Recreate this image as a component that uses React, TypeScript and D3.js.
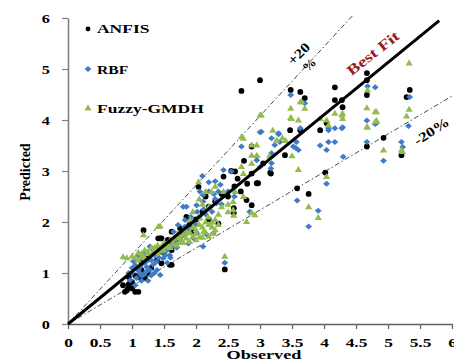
import React, { useEffect, useRef } from "react";
import * as d3 from "d3";

// axis ticks
const xTicks = [0, 0.5, 1, 1.5, 2, 2.5, 3, 3.5, 4, 4.5, 5, 5.5, 6];
const yTicks = [0, 1, 2, 3, 4, 5, 6];

// reference lines (observed, predicted)
const bestFit: [number, number][] = [[0, 0], [5.8, 5.95]];
const upperBand: [number, number][] = [[0, 0], [4.45, 6.05]];
const lowerBand: [number, number][] = [[0, 0], [6, 4.47]];

const seriesNames = ["ANFIS", "RBF", "Fuzzy-GMDH"];

// [observed, predicted]
const anfis: [number, number][] = [
  [2.71, 4.57], [3.0, 4.78], [3.48, 4.59], [3.63, 4.55], [3.7, 4.43], [4.17, 4.64], [4.17, 4.39],
  [4.28, 4.39], [4.67, 4.92], [4.67, 4.78], [4.67, 4.49], [5.34, 4.59], [5.29, 4.45], [3.47, 3.8],
  [3.63, 3.8], [3.94, 3.8], [4.04, 3.94], [4.29, 4.25], [4.67, 3.48], [4.93, 3.65], [5.21, 3.31],
  [3.16, 2.97], [3.17, 2.95], [2.61, 2.99], [2.43, 2.89], [2.55, 3.0], [4.02, 2.97], [3.39, 3.31],
  [2.87, 3.48], [2.87, 2.95], [2.95, 2.76], [2.97, 2.76], [2.79, 2.43], [3.58, 2.66], [3.76, 2.55],
  [2.87, 2.33], [2.59, 2.27], [2.59, 2.18], [2.45, 1.07], [2.04, 2.69], [2.35, 1.97],
  [1.18, 1.84], [1.41, 1.68], [1.46, 1.68], [1.44, 1.68], [1.56, 1.65], [1.62, 1.81], [1.75, 1.88],
  [1.59, 1.16], [1.62, 1.45], [1.39, 1.25], [1.46, 1.19], [1.62, 1.16], [0.86, 0.76], [0.94, 0.7],
  [1.05, 0.63], [0.89, 0.63], [1.1, 0.63], [0.95, 0.78], [1.0, 0.82], [1.05, 0.95], [1.12, 0.92],
  [1.2, 0.9], [1.25, 1.0], [1.3, 1.1], [1.15, 1.05], [1.5, 1.4], [1.55, 1.5], [1.7, 1.6],
  [1.8, 1.75], [1.9, 1.95], [2.0, 2.05], [2.1, 2.2], [2.2, 2.3], [2.3, 2.4], [2.4, 2.55],
  [2.5, 2.5], [2.6, 2.7], [2.7, 2.6], [2.2, 2.05], [1.95, 1.8], [1.85, 2.1], [2.15, 2.5],
  [2.65, 2.85], [2.8, 2.75], [3.05, 3.15], [2.75, 3.2], [1.35, 1.45], [1.25, 1.3], [0.95, 0.92],
  [1.15, 1.2], [0.92, 0.66], [1.0, 0.7],
];

const rbf: [number, number][] = [
  [3.48, 4.49], [4.8, 4.64], [4.68, 4.66], [5.34, 4.45], [3.7, 4.33], [3.0, 3.76], [3.02, 3.77],
  [3.29, 3.72], [3.29, 3.74], [3.63, 3.84], [2.71, 3.48], [3.31, 3.57], [3.57, 3.57], [3.6, 3.41],
  [3.94, 3.5], [4.07, 3.57], [4.17, 3.57], [4.07, 3.8], [4.17, 3.84], [4.07, 3.84], [4.28, 3.84],
  [4.67, 3.99], [4.82, 3.94], [4.8, 3.92], [4.67, 3.57], [4.3, 3.28], [4.93, 3.2], [5.21, 3.57],
  [5.23, 3.47], [5.32, 3.88], [4.29, 3.86], [3.18, 3.35], [3.18, 3.15], [2.95, 3.28], [3.0, 3.08],
  [3.18, 3.64], [3.23, 3.51], [3.52, 3.48], [3.56, 3.45], [4.04, 3.41], [2.95, 3.21], [2.43, 3.02],
  [2.55, 2.99], [2.38, 2.73], [2.06, 2.6], [2.11, 2.53], [1.8, 2.3], [2.84, 2.2], [3.58, 2.42],
  [3.91, 2.22], [3.76, 1.91], [4.04, 2.75], [2.45, 1.2], [3.17, 3.05], [2.01, 1.78], [1.85, 1.91],
  [1.85, 2.3], [2.01, 2.33], [2.11, 2.4], [2.22, 2.3], [2.32, 2.37], [1.72, 1.94], [1.65, 1.81],
  [1.83, 2.04], [1.88, 1.58], [1.96, 1.68], [2.17, 1.75], [2.27, 1.78], [2.11, 1.52], [1.49, 1.29],
  [1.59, 1.35], [1.28, 1.52], [1.33, 1.45], [1.02, 1.23], [1.13, 1.12], [1.23, 1.12], [1.28, 1.06],
  [1.33, 1.16], [1.39, 1.06], [1.44, 0.96], [1.18, 0.96], [1.07, 0.9], [0.97, 0.86], [1.05, 0.76],
  [1.0, 1.0], [1.1, 1.05], [1.15, 1.3], [1.2, 1.4], [1.25, 1.25], [1.35, 1.35], [1.4, 1.5],
  [1.45, 1.4], [1.5, 1.55], [1.55, 1.45], [1.6, 1.6], [1.65, 1.55], [1.7, 1.7], [1.75, 1.65],
  [1.8, 1.8], [1.9, 1.85], [1.95, 2.0], [2.0, 1.95], [2.05, 2.1], [2.15, 2.15], [2.25, 2.2],
  [2.3, 2.45], [2.4, 2.35], [2.5, 2.6], [2.6, 2.5], [2.2, 2.6], [2.3, 2.8], [1.55, 1.2],
  [1.6, 1.3], [1.7, 1.5], [1.15, 0.85], [1.25, 0.85], [1.3, 0.95], [1.35, 1.0], [0.95, 1.0],
  [1.0, 1.1], [2.1, 2.9], [2.2, 2.78], [1.05, 1.15], [1.12, 1.0], [1.2, 1.2], [1.3, 1.25],
  [1.38, 1.22], [1.42, 1.3], [1.48, 1.42], [1.52, 1.35], [1.58, 1.5], [1.68, 1.62], [1.78, 1.72],
  [1.82, 1.9], [1.92, 2.1], [2.02, 2.2], [2.12, 2.25], [2.28, 2.55], [2.35, 2.6], [1.1, 1.35],
  [1.22, 1.02], [1.15, 0.95],
];

const gmdh: [number, number][] = [
  [5.33, 5.12], [4.67, 4.24], [4.82, 4.16], [4.8, 4.16], [4.67, 3.87], [4.68, 3.86], [4.82, 3.99],
  [4.8, 3.97], [4.68, 4.59], [5.33, 4.21], [5.29, 4.08], [5.23, 3.38], [4.93, 3.41], [5.21, 3.41],
  [3.63, 4.36], [3.65, 4.36], [3.48, 4.23], [3.7, 4.23], [3.0, 4.1], [3.02, 4.1], [3.48, 4.05],
  [3.49, 4.03], [3.6, 4.0], [3.94, 4.03], [4.04, 4.0], [4.07, 3.9], [4.17, 4.13], [4.28, 4.1],
  [4.29, 4.13], [4.29, 4.03], [2.74, 3.64], [2.71, 3.67], [2.87, 3.51], [2.95, 3.51], [3.26, 3.61],
  [3.35, 3.65], [3.4, 3.6], [2.87, 3.31], [2.95, 3.31], [2.87, 3.15], [2.71, 3.09], [2.74, 2.95],
  [3.15, 3.3], [3.6, 3.03], [3.76, 2.3], [3.91, 2.09], [4.04, 2.89], [2.45, 1.33], [2.24, 2.6],
  [2.43, 2.6], [2.61, 2.6], [2.74, 2.5], [2.04, 2.79], [2.58, 2.4], [2.58, 2.24], [2.79, 2.01],
  [2.92, 2.14], [2.87, 2.18], [2.59, 2.13], [3.2, 3.8], [3.5, 3.3],
  [1.91, 2.04], [2.06, 2.08], [2.19, 2.1], [2.27, 1.78], [2.06, 1.71], [1.44, 1.92], [1.41, 1.91],
  [1.18, 1.75], [0.86, 1.32], [0.92, 1.3], [1.0, 1.33], [1.05, 1.3], [1.1, 1.4], [1.15, 1.38],
  [1.2, 1.45], [1.25, 1.42], [1.3, 1.5], [1.35, 1.45], [1.4, 1.55], [1.45, 1.5], [1.5, 1.6],
  [1.55, 1.52], [1.6, 1.65], [1.65, 1.58], [1.7, 1.7], [1.75, 1.62], [1.8, 1.75], [1.85, 1.68],
  [1.9, 1.8], [1.95, 1.72], [2.0, 1.85], [2.1, 1.9], [2.15, 1.8], [2.2, 1.95], [2.25, 2.0],
  [2.3, 2.05], [1.3, 1.35], [1.4, 1.4], [1.5, 1.45], [1.6, 1.5], [1.7, 1.55], [1.8, 1.6],
  [1.9, 1.62], [2.0, 1.65], [2.1, 1.7], [2.2, 1.72], [2.3, 1.85], [2.35, 2.15], [2.2, 2.3],
  [2.1, 2.35], [1.95, 2.2], [2.4, 2.3], [2.5, 2.35], [2.5, 2.2], [2.35, 1.95], [1.2, 1.3],
  [1.1, 1.25], [2.05, 2.45], [2.15, 2.6], [2.3, 2.7], [1.55, 1.58], [1.65, 1.68], [1.75, 1.7],
  [1.85, 1.78], [1.95, 1.9], [2.05, 1.95], [2.15, 2.0], [2.25, 1.9], [1.45, 1.45], [1.35, 1.5],
  [1.72, 1.78], [1.82, 1.85], [2.0, 1.78], [2.12, 1.82], [1.25, 1.38], [1.15, 1.32],
];

const FONT = "'Liberation Serif', 'Times New Roman', serif";
const BLUE = "#3f7bc6";
const GREEN = "#93bb4f";
const DIAMOND = "M0,-3L3.4,0L0,3L-3.4,0Z";
const TRIANGLE = "M0,-3.5L3.6,2.5L-3.6,2.5Z";

function App() {
  const ref = useRef<SVGSVGElement>(null);

  useEffect(() => {
    const svg = d3.select(ref.current);
    svg.selectAll("*").remove();

    const x = d3.scaleLinear().domain([0, 6]).range([68, 452]);
    const y = d3.scaleLinear().domain([0, 6]).range([324, 18]);

    // stretched bold serif text, like the original picture
    function label(text: string, px: number, py: number, size: number, sx: number, rot = 0, anchor = "middle", fill = "#000") {
      svg.append("text")
        .attr("transform", `translate(${px},${py}) rotate(${rot}) scale(${sx},1)`)
        .attr("text-anchor", anchor)
        .attr("font-family", FONT)
        .attr("font-weight", "bold")
        .attr("font-size", size)
        .attr("fill", fill)
        .text(text);
    }

    // axes
    const yAxis = d3.axisLeft(y).tickValues(yTicks).tickSize(6).tickSizeOuter(0).tickFormat((d: any) => String(d));
    const gy = svg.append("g").attr("transform", `translate(${x(0)},0)`).call(yAxis);
    gy.select(".domain").attr("stroke", "#808080").attr("stroke-width", 1.6);
    gy.selectAll(".tick line").attr("stroke", "#808080").attr("stroke-width", 1.2);
    gy.selectAll(".tick text")
      .attr("x", null).attr("dy", null)
      .attr("transform", "translate(-18,4) scale(1.3,1)")
      .attr("font-family", FONT).attr("font-weight", "bold").attr("font-size", 12.5).attr("fill", "#000");

    const xAxis = d3.axisBottom(x).tickValues(xTicks).tickSize(5).tickSizeOuter(0).tickFormat((d: any) => String(d));
    const gx = svg.append("g").attr("transform", `translate(0,${y(0)})`).call(xAxis);
    gx.select(".domain").attr("stroke", "#606060").attr("stroke-width", 1.4);
    gx.selectAll(".tick line").attr("stroke", "#606060").attr("stroke-width", 1.2);
    gx.selectAll(".tick text")
      .attr("y", null).attr("dy", null)
      .attr("transform", "translate(0,23) scale(1.45,1)")
      .attr("font-family", FONT).attr("font-weight", "bold").attr("font-size", 12).attr("fill", "#000");

    const line = d3.line<[number, number]>().x(d => x(d[0])).y(d => y(d[1]));

    // +/- bands
    [upperBand, lowerBand].forEach(b => {
      svg.append("path").attr("d", line(b)).attr("fill", "none")
        .attr("stroke", "#333").attr("stroke-width", 0.9).attr("stroke-dasharray", "5,2.5,1.5,2.5");
    });

    // points
    svg.append("g").selectAll("circle").data(anfis).enter().append("circle")
      .attr("cx", d => x(d[0])).attr("cy", d => y(d[1])).attr("r", 2.9).attr("fill", "#000");
    svg.append("g").selectAll("path").data(rbf).enter().append("path")
      .attr("d", DIAMOND).attr("transform", d => `translate(${x(d[0])},${y(d[1])})`).attr("fill", BLUE);
    svg.append("g").selectAll("path").data(gmdh).enter().append("path")
      .attr("d", TRIANGLE).attr("transform", d => `translate(${x(d[0])},${y(d[1])})`).attr("fill", GREEN);

    // best fit
    svg.append("path").attr("d", line(bestFit)).attr("fill", "none")
      .attr("stroke", "#000").attr("stroke-width", 3);

    // line labels
    label("Best Fit", 376, 57, 14.5, 1.3, -38, "middle", "#9a1c1c");
    label("+20", 302, 57, 13.5, 1.2, -45);
    label("%", 312, 68, 12.5, 1.1, -45);
    label("-20%", 434, 135, 13.5, 1.25, -33);

    // legend
    const lg = svg.append("g");
    lg.append("circle").attr("cx", 88).attr("cy", 29).attr("r", 2.4).attr("fill", "#000");
    lg.append("path").attr("d", DIAMOND).attr("transform", "translate(88,69)").attr("fill", BLUE);
    lg.append("path").attr("d", TRIANGLE).attr("transform", "translate(88,108)").attr("fill", GREEN);
    label(seriesNames[0], 97, 33, 12.5, 1.4, 0, "start");
    label(seriesNames[1], 97, 74, 12.5, 1.25, 0, "start");
    label(seriesNames[2], 97, 113, 12.5, 1.4, 0, "start");

    // axis titles
    label("Predicted", 30, 172, 14, 1.0, -90);
    label("Observed", 264, 359, 13.5, 1.35);
  }, []);

  return (
    <svg ref={ref} width={454} height={361}
      style={{ position: "absolute", left: 0, top: 0, background: "#fff" }} />
  );
}

export default App;
